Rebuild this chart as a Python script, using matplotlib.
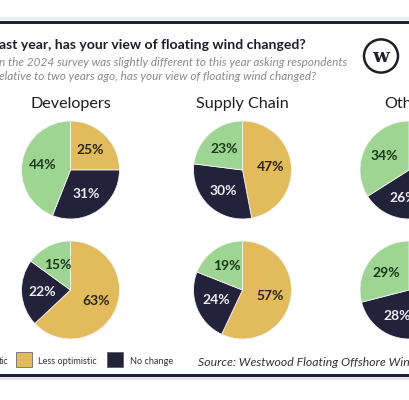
import matplotlib.pyplot as plt
from matplotlib.patches import Circle, Rectangle

plt.rcParams["font.family"] = ["Lato", "DejaVu Sans"]

# survey shares, order: less optimistic, no change, more optimistic
groups = ["Developers", "Supply Chain", "Others"]
shares_2025 = [[25, 31, 44], [47, 30, 23], [40, 26, 34]]
shares_2024 = [[63, 22, 15], [57, 24, 19], [43, 28, 29]]
legend_labels = ["More optimistic", "Less optimistic", "No change"]

yellow = "#e2bb5c"
navy = "#24213a"
green = "#9fd592"
slice_colors = [yellow, navy, green]
label_colors = ["#2b2614", "#ececf2", "#183a18"]

W, H = 410, 400
fig = plt.figure(figsize=(W / 100, H / 100), dpi=100)
fig.patch.set_facecolor("white")

def fx(x):
    return x / W

def fy(y):
    return 1 - y / H

# frame lines top and bottom
fig.add_artist(Rectangle((0, fy(20)), 1, 3 / H, transform=fig.transFigure, color="#ecebf2", lw=0))
fig.add_artist(Rectangle((0, fy(24)), 1, 3 / H, transform=fig.transFigure, color="#22213a", lw=0))
fig.add_artist(Rectangle((0, fy(377)), 1, 3 / H, transform=fig.transFigure, color="#22213a", lw=0))
fig.add_artist(Rectangle((0, fy(380)), 1, 3 / H, transform=fig.transFigure, color="#e6e5ee", lw=0))

fig.text(fx(-1), fy(45), "ast year, has your view of floating wind changed?", fontsize=10.1,
         fontweight="bold", color="#1e1e28", va="center", ha="left")
fig.text(fx(-1), fy(62), "n the 2024 survey was slightly different to this year asking respondents",
         fontsize=8.5, style="italic", color="#8a8a8a", va="center", ha="left")
fig.text(fx(-1), fy(77), "elative to two years ago, has your view of floating wind changed?",
         fontsize=8.5, style="italic", color="#8a8a8a", va="center", ha="left")

# logo
fig.add_artist(Circle((fx(381), fy(56)), 17 / W, transform=fig.transFigure, fill=False,
                      edgecolor="#1e1e28", lw=1.8))
fig.text(fx(381), fy(57), "w", fontsize=14, fontweight="bold", family="DejaVu Serif",
         color="#1e1e28", ha="center", va="center")

centers_x = [70.5, 242.5, 409]
rows_y = [170, 290]
r = 49

for i, name in enumerate(groups):
    fig.text(fx(centers_x[i]), fy(104), name, fontsize=11.6, color="#1e1e28", ha="center", va="center")
    for j, data in enumerate([shares_2025, shares_2024]):
        ax = fig.add_axes([fx(centers_x[i] - r), fy(rows_y[j] + r), 2 * r / W, 2 * r / H])
        wedges, texts, autotexts = ax.pie(data[i], colors=slice_colors, startangle=90, counterclock=False,
                                          autopct="%d%%", pctdistance=0.58,
                                          wedgeprops=dict(edgecolor="#f4f4f4", linewidth=0.6),
                                          textprops=dict(fontsize=10, fontweight="bold"))
        for t, c in zip(autotexts, label_colors):
            t.set_color(c)
        ax.set_xlim(-1, 1)
        ax.set_ylim(-1, 1)

# legend row
fig.text(fx(-1), fy(362), "tic", fontsize=6.5, color="#333333", va="center", ha="left")
fig.add_artist(Rectangle((fx(16), fy(367)), 16 / W, 15 / H, transform=fig.transFigure,
                         facecolor=yellow, edgecolor="#555555", lw=0.5))
fig.text(fx(38), fy(362), legend_labels[1], fontsize=6.6, color="#333333", va="center", ha="left")
fig.add_artist(Rectangle((fx(107), fy(367)), 16 / W, 15 / H, transform=fig.transFigure,
                         facecolor=navy, edgecolor="#555555", lw=0.5))
fig.text(fx(130), fy(362), legend_labels[2], fontsize=6.6, color="#333333", va="center", ha="left")
fig.text(fx(198), fy(363), "Source: Westwood Floating Offshore Wind Database", fontsize=8.8,
         style="italic", color="#333333", va="center", ha="left")

fig.savefig("out.png", dpi=100)
